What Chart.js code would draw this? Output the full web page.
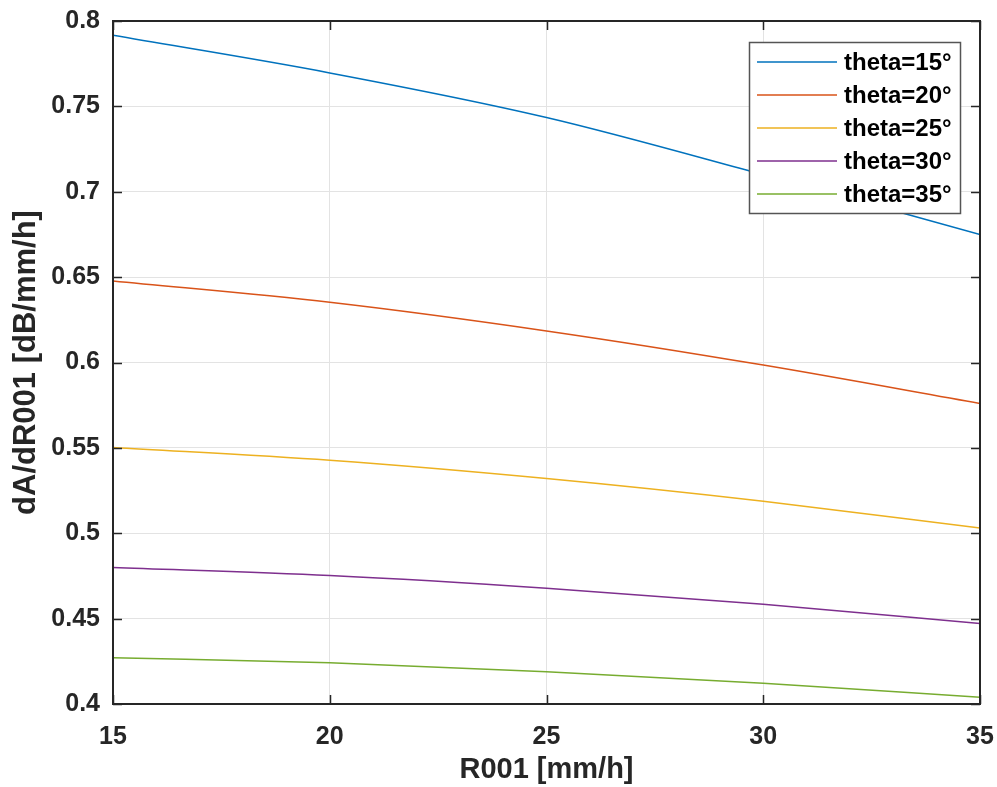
<!DOCTYPE html>
<html>
<head>
<meta charset="utf-8">
<script src="https://cdn.jsdelivr.net/npm/chart.js@4/dist/chart.umd.min.js"></script>
<style>
  html, body { margin: 0; padding: 0; background: #fff; }
  #wrap { width: 997px; height: 787px; }
</style>
</head>
<body>
<div id="wrap"><canvas id="chart" width="997" height="787"></canvas></div>
<script>
// rain rate R001 [mm/h]
const r001 = [15, 20, 25, 30, 35];

// dA/dR001 for each elevation angle
const theta15 = [0.7916, 0.7696, 0.7435, 0.7100, 0.6750];
const theta20 = [0.6478, 0.6353, 0.6185, 0.5985, 0.5760];
const theta25 = [0.5502, 0.5427, 0.5320, 0.5187, 0.5030];
const theta30 = [0.4799, 0.4752, 0.4678, 0.4584, 0.4471];
const theta35 = [0.4271, 0.4242, 0.4189, 0.4121, 0.4039];

const seriesNames = ['theta=15°', 'theta=20°', 'theta=25°', 'theta=30°', 'theta=35°'];
const seriesColors = ['#0072BD', '#D95319', '#EDB120', '#7E2F8E', '#77AC30'];
const seriesValues = [theta15, theta20, theta25, theta30, theta35];

const yMin = 0.4, yMax = 0.8, yStep = 0.05;
const xMin = 15, xMax = 35, xStep = 5;

const FONT = '"Liberation Sans", Arial, Helvetica, sans-serif';
const INK = '#262626';

const datasets = seriesValues.map((vals, i) => ({
    label: seriesNames[i],
    data: vals.map((v, j) => ({ x: r001[j], y: v })),
    borderColor: seriesColors[i],
    backgroundColor: seriesColors[i],
    borderWidth: 1.5,
    pointRadius: 0,
    fill: false,
    cubicInterpolationMode: 'monotone'
}));

// axes box with inward tick marks on all four sides
const boxPlugin = {
    id: 'box',
    afterDatasetsDraw(chart) {
        const { ctx, chartArea: a, scales } = chart;
        const len = 9;
        ctx.save();
        ctx.strokeStyle = INK;
        ctx.lineWidth = 1.5;
        ctx.beginPath();
        scales.x.ticks.forEach(t => {
            const px = Math.round(scales.x.getPixelForValue(t.value)) + 0.5;
            ctx.moveTo(px, a.bottom); ctx.lineTo(px, a.bottom - len);
            ctx.moveTo(px, a.top); ctx.lineTo(px, a.top + len);
        });
        scales.y.ticks.forEach(t => {
            const py = Math.round(scales.y.getPixelForValue(t.value)) + 0.5;
            ctx.moveTo(a.left, py); ctx.lineTo(a.left + len, py);
            ctx.moveTo(a.right, py); ctx.lineTo(a.right - len, py);
        });
        ctx.stroke();
        ctx.lineWidth = 2;
        ctx.strokeRect(a.left, a.top, a.right - a.left, a.bottom - a.top);
        ctx.restore();
    }
};

// legend box in the upper right corner of the plot
const legendPlugin = {
    id: 'innerLegend',
    afterDraw(chart) {
        const { ctx } = chart;
        const bx = 749.5, by = 42.5, bw = 211, bh = 171;
        ctx.save();
        ctx.fillStyle = '#fff';
        ctx.fillRect(bx, by, bw, bh);
        ctx.strokeStyle = '#555';
        ctx.lineWidth = 1.5;
        ctx.strokeRect(bx, by, bw, bh);
        ctx.font = 'bold 24px ' + FONT;
        ctx.textBaseline = 'middle';
        ctx.textAlign = 'left';
        chart.data.datasets.forEach((ds, i) => {
            const cy = 62 + i * 33;
            ctx.strokeStyle = ds.borderColor;
            ctx.lineWidth = 1.5;
            ctx.beginPath();
            ctx.moveTo(757, cy);
            ctx.lineTo(837, cy);
            ctx.stroke();
            ctx.fillStyle = '#000';
            ctx.fillText(ds.label, 844, cy + 1);
        });
        ctx.restore();
    }
};

new Chart(document.getElementById('chart'), {
    type: 'line',
    data: { datasets },
    options: {
        responsive: false,
        animation: false,
        maintainAspectRatio: false,
        layout: { padding: { top: 21, right: 17, left: 0, bottom: 0 } },
        plugins: {
            legend: { display: false },
            tooltip: { enabled: false }
        },
        scales: {
            x: {
                type: 'linear',
                min: xMin,
                max: xMax,
                afterFit: s => {
                    s.height = 83;
                    s.paddingLeft = 0;
                    s.paddingRight = 0;
                },
                afterBuildTicks: s => {
                    s.ticks = [];
                    for (let v = xMin; v <= xMax; v += xStep) s.ticks.push({ value: v });
                },
                grid: { color: '#e3e3e3', lineWidth: 1, drawTicks: false },
                border: { display: false },
                ticks: {
                    padding: 18,
                    color: INK,
                    font: { family: FONT, size: 25, weight: 'bold' },
                    maxRotation: 0
                },
                title: {
                    display: true,
                    text: 'R001 [mm/h]',
                    color: INK,
                    font: { family: FONT, size: 29, weight: 'bold' },
                    padding: { top: 0, bottom: 0 }
                }
            },
            y: {
                type: 'linear',
                min: yMin,
                max: yMax,
                afterFit: s => {
                    s.width = 113;
                    s.paddingTop = 0;
                    s.paddingBottom = 0;
                },
                afterBuildTicks: s => {
                    s.ticks = [];
                    for (let k = 0; k <= Math.round((yMax - yMin) / yStep); k++) {
                        s.ticks.push({ value: +(yMin + k * yStep).toFixed(2) });
                    }
                },
                grid: { color: '#e3e3e3', lineWidth: 1, drawTicks: false },
                border: { display: false },
                ticks: {
                    padding: 13,
                    color: INK,
                    font: { family: FONT, size: 25, weight: 'bold' },
                    callback: v => String(+v.toFixed(2))
                },
                title: {
                    display: true,
                    text: 'dA/dR001 [dB/mm/h]',
                    color: INK,
                    font: { family: FONT, size: 31, weight: 'bold' },
                    padding: { top: 8, bottom: 0 }
                }
            }
        }
    },
    plugins: [boxPlugin, legendPlugin]
});
</script>
</body>
</html>
